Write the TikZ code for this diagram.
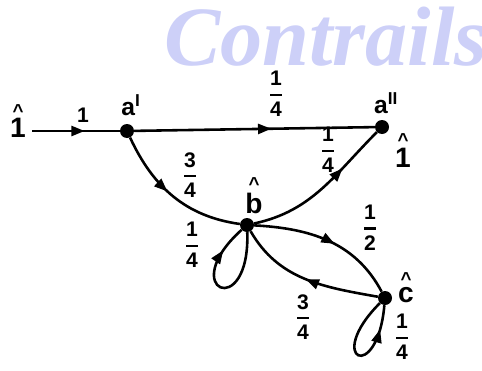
\documentclass[tikz,border=0pt]{standalone}
\usepackage{amsmath}
\usepackage{fontspec}
\setmainfont{Liberation Sans}
\newfontfamily\markfont{Liberation Serif}
\usetikzlibrary{arrows.meta,decorations.markings}
\definecolor{markblue}{RGB}{205,208,248}
\newcommand{\frc}[2]{$\genfrac{}{}{1.8pt}{0}{\text{#1}}{\text{#2}}$}
% caret stacked over a label; #1 is the kern between caret and label
\newcommand{\hatl}[2]{\vbox{\offinterlineskip\halign{\hfil##\hfil\cr
  \fontsize{16}{16}\selectfont\textasciicircum\cr\noalign{\kern#1}#2\cr}}}

\begin{document}
\begin{tikzpicture}[
    font=\bfseries\fontsize{18}{20}\selectfont,
    state/.style={circle,fill,inner sep=0pt,minimum size=4.2mm},
    lbl/.style={inner sep=0pt,anchor=base},
    big/.style={font=\bfseries\fontsize{24}{26}\selectfont},
    wt/.style={inner sep=0pt},
    flow/.style={line width=2.2pt,postaction={decorate},
      decoration={markings,mark=at position #1 with {\arrow{Triangle[length=4mm,width=3mm]}}}},
    flow/.default=0.5]
  \useasboundingbox (0,0) rectangle (14.46,11.1);
  % watermark
  \node[anchor=base west,text=markblue,font=\markfont\bfseries\itshape\fontsize{72}{72}\selectfont] (mark) at (4.8,9.15) {Contrails};
  % states
  \node[state] (a1) at (3.81,7.17) {};
  \node[state] (a2) at (11.46,7.29) {};
  \node[state] (b) at (7.41,4.35) {};
  \node[state] (c) at (11.55,2.16) {};
  \coordinate (start) at (0.96,7.17);
  % state labels
  \node[lbl,big] (src) at (0.54,6.99) {\hatl{0pt}{1}};
  \node[lbl,font=\bfseries\fontsize{21}{23}\selectfont] (a1lbl) at (3.93,7.65) {a\textsuperscript{I}};
  \node[lbl,font=\bfseries\fontsize{21}{23}\selectfont] (a2lbl) at (11.58,7.71) {a\textsuperscript{II}};
  \node[lbl,big] (a2val) at (12.09,6.09) {\hatl{1pt}{1}};
  \node[lbl,big] (blbl) at (7.62,4.71) {\hatl{1.5pt}{b}};
  \node[lbl,big] (clbl) at (12.18,2.04) {\hatl{1.5pt}{c}};
  % transitions
  \draw[flow=0.6] (start) -- (a1);
  \draw[flow=0.57] (a1) -- (a2);
  \draw[flow=0.45] (a1) to[out=-65,in=172] (b);
  \draw[flow=0.68] (b) to[out=12,in=-135] (a2);
  \draw[flow=0.55] (b) to[out=-3,in=118] (c);
  \draw[flow=0.5] (c) to[out=170,in=-60] (b);
  \draw[flow=0.8] (b) to[out=-88,in=-138,distance=2.7cm] (b);
  \draw[flow=0.8] (c) to[out=-135,in=-95,distance=2.4cm] (c);
  % weights
  \node[wt] (w1) at (2.49,7.65) {1};
  \node[wt] (w2) at (8.28,8.28) {\frc{1}{4}};
  \node[wt] (w3) at (5.7,5.85) {\frc{3}{4}};
  \node[wt] (w4) at (9.84,6.6) {\frc{1}{4}};
  \node[wt] (w5) at (5.76,3.75) {\frc{1}{4}};
  \node[wt] (w6) at (11.1,4.26) {\frc{1}{2}};
  \node[wt] (w7) at (9.09,1.59) {\frc{3}{4}};
  \node[wt] (w8) at (12.06,0.99) {\frc{1}{4}};
\end{tikzpicture}
\end{document}
